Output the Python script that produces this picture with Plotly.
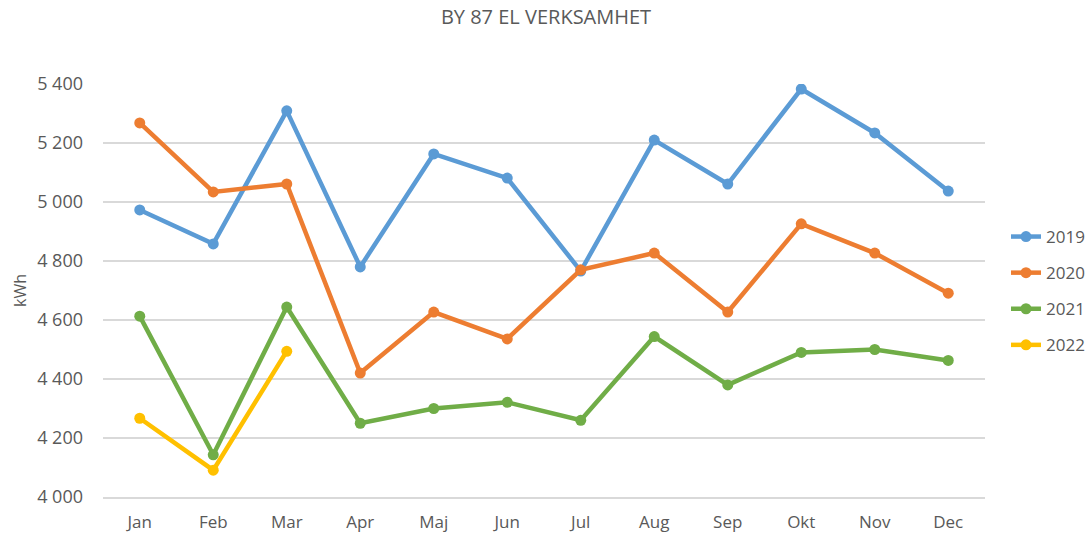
import plotly.graph_objects as go

months = ["Jan", "Feb", "Mar", "Apr", "Maj", "Jun", "Jul", "Aug", "Sep", "Okt", "Nov", "Dec"]
y2019 = [4973, 4858, 5309, 4780, 5163, 5081, 4766, 5210, 5061, 5383, 5234, 5037]
y2020 = [5268, 5034, 5061, 4420, 4627, 4536, 4770, 4827, 4627, 4926, 4827, 4691]
y2021 = [4613, 4143, 4644, 4250, 4300, 4321, 4260, 4544, 4380, 4490, 4500, 4463]
y2022 = [4267, 4091, 4494]

tick_vals = [4000, 4200, 4400, 4600, 4800, 5000, 5200, 5400]
tick_text = ["4 000", "4 200", "4 400", "4 600", "4 800", "5 000", "5 200", "5 400"]

series = [
    ("2019", y2019, "#5B9BD5"),
    ("2020", y2020, "#ED7D31"),
    ("2021", y2021, "#70AD47"),
    ("2022", y2022, "#FFC000"),
]

fig = go.Figure()
for name, ys, color in series:
    fig.add_trace(go.Scatter(
        x=months[:len(ys)], y=ys, name=name, mode="lines+markers",
        line=dict(color=color, width=4.5),
        marker=dict(color=color, size=11),
        legendgroup=name,
    ))

W, H = 1092, 534
font_family = "Open Sans, Liberation Sans, sans-serif"
fig.update_layout(
    width=W, height=H,
    paper_bgcolor="white", plot_bgcolor="white",
    margin=dict(l=103, r=107, t=84, b=37),
    title=dict(text="BY 87 EL VERKSAMHET", x=0.5, xanchor="center",
               y=1 - 17 / H, yanchor="middle", yref="container",
               font=dict(family=font_family, size=20, color="#595959")),
    font=dict(family=font_family, color="#595959", size=16),
    xaxis=dict(type="category", categoryorder="array", categoryarray=months,
               range=[-0.5, 11.5], showgrid=False, showline=True, linecolor="#D9D9D9",
               linewidth=1.5, ticks="", tickfont=dict(size=17, color="#595959"),
               ticklabelstandoff=9, automargin=False),
    yaxis=dict(range=[4000, 5400], tickvals=tick_vals, ticktext=tick_text,
               showgrid=True, gridcolor="#D9D9D9", gridwidth=1.5, zeroline=False,
               title=dict(text="kWh", font=dict(size=16, color="#595959"), standoff=6),
               tickfont=dict(size=18, color="#595959"), ticklabelstandoff=19,
               automargin=False),
    legend=dict(xref="container", yref="container",
                x=1006 / W, xanchor="left", y=1 - 291 / H, yanchor="middle",
                font=dict(size=17, color="#595959"), tracegroupgap=11,
                itemwidth=30),
    showlegend=True,
)

fig.write_html("out.html", config={"displayModeBar": False},
               post_script="document.body.style.margin='0';")
